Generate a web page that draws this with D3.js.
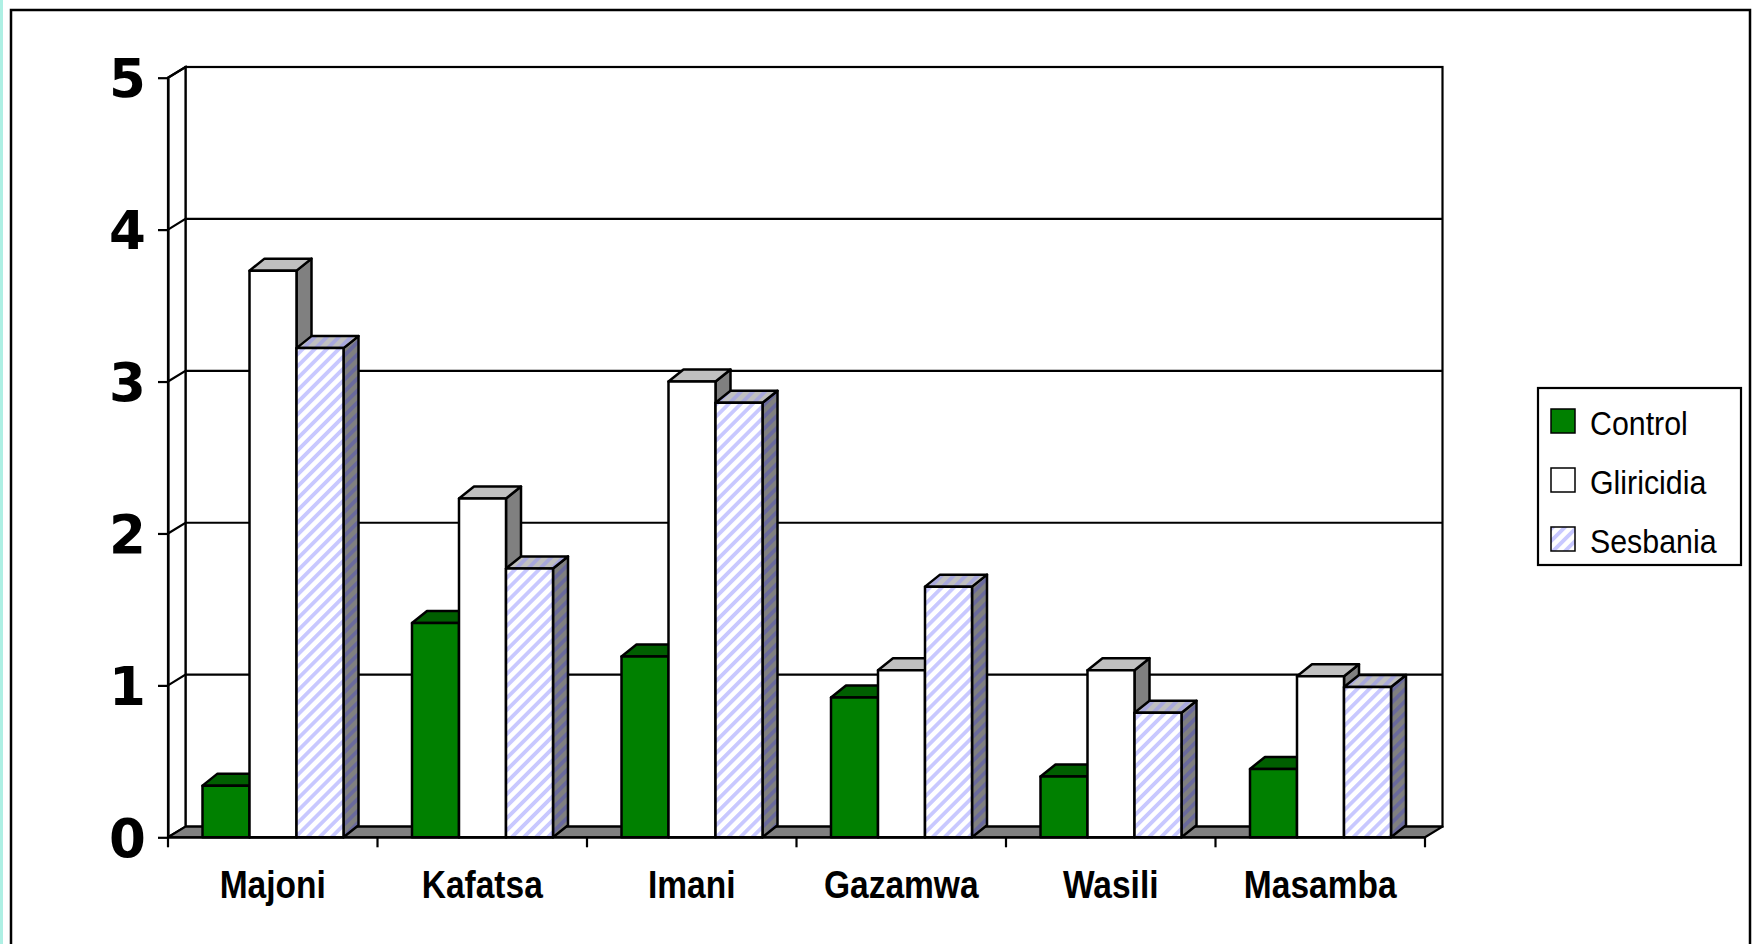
<!DOCTYPE html>
<html>
<head>
<meta charset="utf-8">
<script src="https://cdn.jsdelivr.net/npm/d3@7"></script>
<style>
  html, body { margin: 0; padding: 0; background: #fff; }
  svg { display: block; }
</style>
</head>
<body>
<div id="chart"></div>
<script>
var width = 1763, height = 944;

// data
var sites = ["Majoni", "Kafatsa", "Imani", "Gazamwa", "Wasili", "Masamba"];
var treatments = ["Control", "Gliricidia", "Sesbania"];
var control = [0.34, 1.41, 1.19, 0.92, 0.40, 0.45];
var gliricidia = [3.73, 2.23, 3.00, 1.10, 1.10, 1.06];
var sesbania = [3.22, 1.77, 2.86, 1.65, 0.82, 0.99];
var yTicks = [0, 1, 2, 3, 4, 5];

var values = [control, gliricidia, sesbania];

// 3d offsets (wall / bar depth)
var wdx = 17.5, wdy = -10.7;
var bdx = 15, bdy = -12;

var y = d3.scaleLinear().domain([0, 5]).range([837.3, 77.7]);
var x0 = d3.scaleBand().domain(sites).range([168, 1425]);
var x1 = d3.scaleBand().domain(treatments).range([34.5, 34.5 + 141]);

var svg = d3.select("#chart").append("svg")
    .attr("width", width)
    .attr("height", height);

var defs = svg.append("defs");
function hatch(id, bg, stripe) {
  var p = defs.append("pattern")
      .attr("id", id)
      .attr("patternUnits", "userSpaceOnUse")
      .attr("width", 8.5).attr("height", 8.5)
      .attr("patternTransform", "rotate(45)");
  p.append("rect").attr("width", 8.5).attr("height", 8.5).attr("fill", bg);
  p.append("rect").attr("width", 3.8).attr("height", 8.5).attr("fill", stripe);
}
hatch("hatchFront", "#ffffff", "#c8c8ff");
hatch("hatchTop", "#c0c0c0", "#a8a8dc");
hatch("hatchSide", "#808080", "#6a6a9c");

var faces = {
  Control: { front: "#008000", top: "#005f00", side: "#004d00" },
  Gliricidia: { front: "#ffffff", top: "#c0c0c0", side: "#808080" },
  Sesbania: { front: "url(#hatchFront)", top: "url(#hatchTop)", side: "url(#hatchSide)" }
};

// left cyan strip and outer frame
svg.append("rect").attr("x", 0).attr("y", 0).attr("width", 3).attr("height", height).attr("fill", "#aef0e4");
svg.append("rect")
    .attr("x", 11).attr("y", 10).attr("width", 1739).attr("height", 1000)
    .attr("fill", "none").attr("stroke", "#000").attr("stroke-width", 2.5);

var x0L = 168, x0R = 1425, yB = y(0), yT = y(5);

// back wall
svg.append("rect")
    .attr("x", x0L + wdx).attr("y", yT + wdy)
    .attr("width", x0R - x0L).attr("height", yB - yT)
    .attr("fill", "#fff").attr("stroke", "#000").attr("stroke-width", 2.2);

// left wall
svg.append("path")
    .attr("d", "M" + [x0L, yB] + "L" + [x0L, yT] + "L" + [x0L + wdx, yT + wdy] + "L" + [x0L + wdx, yB + wdy] + "Z")
    .attr("fill", "#fff").attr("stroke", "#000").attr("stroke-width", 2.2);

// gridlines on back wall and left wall
svg.append("g").selectAll("path")
  .data(yTicks.slice(1))
  .join("path")
    .attr("d", function (d) {
      return "M" + [x0L, y(d)] + "L" + [x0L + wdx, y(d) + wdy] + "L" + [x0R + wdx, y(d) + wdy];
    })
    .attr("fill", "none").attr("stroke", "#000").attr("stroke-width", 2.2);

// floor
svg.append("path")
    .attr("d", "M" + [x0L, yB] + "L" + [x0L + wdx, yB + wdy] + "L" + [x0R + wdx, yB + wdy] + "L" + [x0R, yB] + "Z")
    .attr("fill", "#808080").attr("stroke", "#000").attr("stroke-width", 2.2)
    .attr("stroke-linejoin", "round");

// bars
var bars = [];
sites.forEach(function (s, i) {
  treatments.forEach(function (t, j) {
    bars.push({ site: s, treat: t, value: values[j][i] });
  });
});

var bw = x1.bandwidth();
var g = svg.append("g").attr("stroke", "#000").attr("stroke-width", 2.5).attr("stroke-linejoin", "round");
var bar = g.selectAll("g.bar")
  .data(bars)
  .join("g")
    .attr("class", "bar");

bar.append("path")
    .attr("d", function (d) {
      var xl = x0(d.site) + x1(d.treat), yt = y(d.value);
      return "M" + [xl + bw, yt] + "L" + [xl + bw + bdx, yt + bdy] + "L" + [xl + bw + bdx, yB + bdy] + "L" + [xl + bw, yB] + "Z";
    })
    .attr("fill", function (d) { return faces[d.treat].side; });

bar.append("path")
    .attr("d", function (d) {
      var xl = x0(d.site) + x1(d.treat), yt = y(d.value);
      return "M" + [xl, yt] + "L" + [xl + bdx, yt + bdy] + "L" + [xl + bw + bdx, yt + bdy] + "L" + [xl + bw, yt] + "Z";
    })
    .attr("fill", function (d) { return faces[d.treat].top; });

bar.append("rect")
    .attr("x", function (d) { return x0(d.site) + x1(d.treat); })
    .attr("y", function (d) { return y(d.value); })
    .attr("width", bw)
    .attr("height", function (d) { return yB - y(d.value); })
    .attr("fill", function (d) { return faces[d.treat].front; });

// y axis
var yAxis = svg.append("g")
    .attr("transform", "translate(" + x0L + ",0)")
    .call(d3.axisLeft(y).tickValues(yTicks).tickSize(10).tickSizeOuter(0).tickPadding(12).tickFormat(d3.format("d")));
yAxis.select(".domain").attr("stroke", "#000").attr("stroke-width", 2.2);
yAxis.selectAll(".tick line").attr("stroke", "#000").attr("stroke-width", 2.2);
yAxis.selectAll(".tick text")
    .attr("fill", "#000")
    .attr("dy", "0.36em")
    .style("font-family", "'DejaVu Sans', Verdana, sans-serif")
    .style("font-weight", "bold")
    .style("font-size", "53px");

// x axis line and boundary ticks
var bounds = sites.map(function (s) { return x0(s); }).concat([x0R]);
svg.append("line")
    .attr("x1", x0L).attr("x2", x0R).attr("y1", yB).attr("y2", yB)
    .attr("stroke", "#000").attr("stroke-width", 2.2);
svg.append("g").selectAll("line")
  .data(bounds)
  .join("line")
    .attr("x1", function (d) { return d; }).attr("x2", function (d) { return d; })
    .attr("y1", yB).attr("y2", yB + 10)
    .attr("stroke", "#000").attr("stroke-width", 2.2);

// category labels
svg.append("g").selectAll("text")
  .data(sites)
  .join("text")
    .attr("transform", function (d) { return "translate(" + (x0(d) + x0.bandwidth() / 2) + ",898) scale(0.86,1)"; })
    .attr("text-anchor", "middle")
    .style("font-family", "'Liberation Sans', Arial, sans-serif")
    .style("font-weight", "bold")
    .style("font-size", "39px")
    .text(function (d) { return d; });

// legend
var legend = svg.append("g");
legend.append("rect")
    .attr("x", 1538).attr("y", 388).attr("width", 203).attr("height", 177)
    .attr("fill", "#fff").attr("stroke", "#000").attr("stroke-width", 2.2);
var li = legend.selectAll("g.item")
  .data(treatments)
  .join("g")
    .attr("class", "item")
    .attr("transform", function (d, i) { return "translate(0," + (i * 59) + ")"; });
li.append("rect")
    .attr("x", 1551).attr("y", 409).attr("width", 24).attr("height", 24)
    .attr("fill", function (d) { return faces[d].front; })
    .attr("stroke", "#000").attr("stroke-width", 1.5);
li.append("text")
    .attr("transform", "translate(1590,434.5) scale(0.92,1)")
    .style("font-family", "'Liberation Sans', Arial, sans-serif")
    .style("font-size", "33px")
    .text(function (d) { return d; });
</script>
</body>
</html>
